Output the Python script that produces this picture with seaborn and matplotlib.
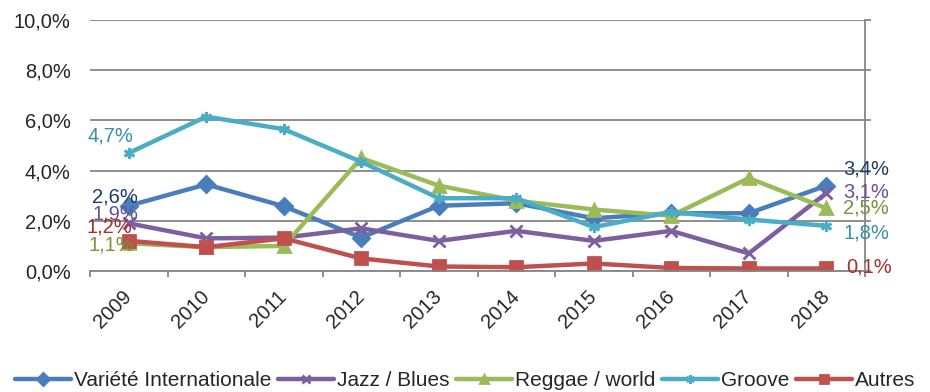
import matplotlib.pyplot as plt
import seaborn as sns
from matplotlib.ticker import FuncFormatter, FixedLocator

years = [2009, 2010, 2011, 2012, 2013, 2014, 2015, 2016, 2017, 2018]
series_names = ["Variété Internationale", "Jazz / Blues", "Reggae / world", "Groove", "Autres"]
variete = [2.6, 3.45, 2.58, 1.33, 2.6, 2.7, 2.1, 2.3, 2.3, 3.4]
jazz = [1.9, 1.3, 1.33, 1.7, 1.2, 1.6, 1.2, 1.6, 0.7, 3.1]
reggae = [1.1, 0.95, 1.0, 4.5, 3.4, 2.8, 2.45, 2.2, 3.7, 2.5]
groove = [4.7, 6.15, 5.65, 4.35, 2.9, 2.9, 1.75, 2.35, 2.05, 1.8]
autres = [1.2, 0.95, 1.3, 0.5, 0.18, 0.15, 0.3, 0.12, 0.1, 0.1]

colors = ["#4A7EBB", "#7D5FA0", "#9BBB59", "#4BACC6", "#C0504D"]
label_colors = ["#1F3D6B", "#6B5090", "#77933C", "#3A8FA8", "#A0322F"]
markers = ["D", "x", "^", (6, 2, 0), "s"]
grey = "#868686"
fs = 14.5

sns.set_style("white")
plt.rcParams["font.family"] = ["Liberation Sans", "DejaVu Sans"]

fig = plt.figure(figsize=(9.3, 3.92), dpi=100)
ax = fig.add_axes([90 / 930, 1 - 271 / 392, (865 - 90) / 930, (271 - 20) / 392])

all_vals = [variete, jazz, reggae, groove, autres]
for name, vals, c, m in zip(series_names, all_vals, colors, markers):
    sns.lineplot(x=years, y=vals, color=c, marker=m, linewidth=3.2,
                 markersize=8, markeredgewidth=2, markeredgecolor=c,
                 label=name, ax=ax)

ax.set_xlim(2008.5, 2018.5)
ax.set_ylim(0, 10)
ax.set_yticks([0, 2, 4, 6, 8, 10])
ax.yaxis.set_major_formatter(FuncFormatter(lambda v, p: f"{v:.1f}%".replace(".", ",")))
ax.set_xticks(years)
ax.set_xticklabels([str(y) for y in years], rotation=45, ha="right", va="center",
                   rotation_mode="anchor", fontsize=fs)
ax.xaxis.set_minor_locator(FixedLocator([y - 0.5 for y in years] + [2018.5]))
ax.tick_params(axis="x", which="major", length=0, pad=16)
ax.tick_params(axis="x", which="minor", length=4.3, color=grey, width=1.3, bottom=True)
ax.tick_params(axis="y", labelsize=fs, left=False, right=True, labelleft=True,
               labelright=False, length=4.3, width=1.3, color=grey, pad=9.5)
ax.grid(axis="y", color=grey, linewidth=1.3)
ax.set_axisbelow(True)
for side in ["bottom", "right"]:
    ax.spines[side].set_color(grey)
    ax.spines[side].set_linewidth(1.3)
ax.spines["top"].set_visible(False)
ax.spines["left"].set_visible(False)
ax.set_xlabel("")
ax.set_ylabel("")

# data labels at first and last points (offsets in px: right, up)
left_off = [(9, 9), (10, 9), (6, -2), (5, 17), (3, 14)]
right_off = [(17, 17), (17, 1), (17, 0), (17, -7), (20, 1.5)]
for vals, lc, lo, ro in zip(all_vals, label_colors, left_off, right_off):
    ax.annotate(f"{vals[0]:.1f}%".replace(".", ","), (years[0], vals[0]),
                xytext=(lo[0] * 0.72, lo[1] * 0.72), textcoords="offset points",
                ha="right", va="center", color=lc, fontsize=fs)
    ax.annotate(f"{vals[-1]:.1f}%".replace(".", ","), (years[-1], vals[-1]),
                xytext=(ro[0] * 0.72, ro[1] * 0.72), textcoords="offset points",
                ha="left", va="center", color=lc, fontsize=fs, annotation_clip=False)

handles, labels = ax.get_legend_handles_labels()
ax.legend_.remove()
fig.legend(handles, labels, loc="center", bbox_to_anchor=(0.5, 1 - 381 / 392),
           ncol=5, frameon=False, fontsize=15, handlelength=2.7, handletextpad=0.15,
           columnspacing=0.3, borderaxespad=0, markerscale=0.75)

fig.savefig("out.png", dpi=100)
